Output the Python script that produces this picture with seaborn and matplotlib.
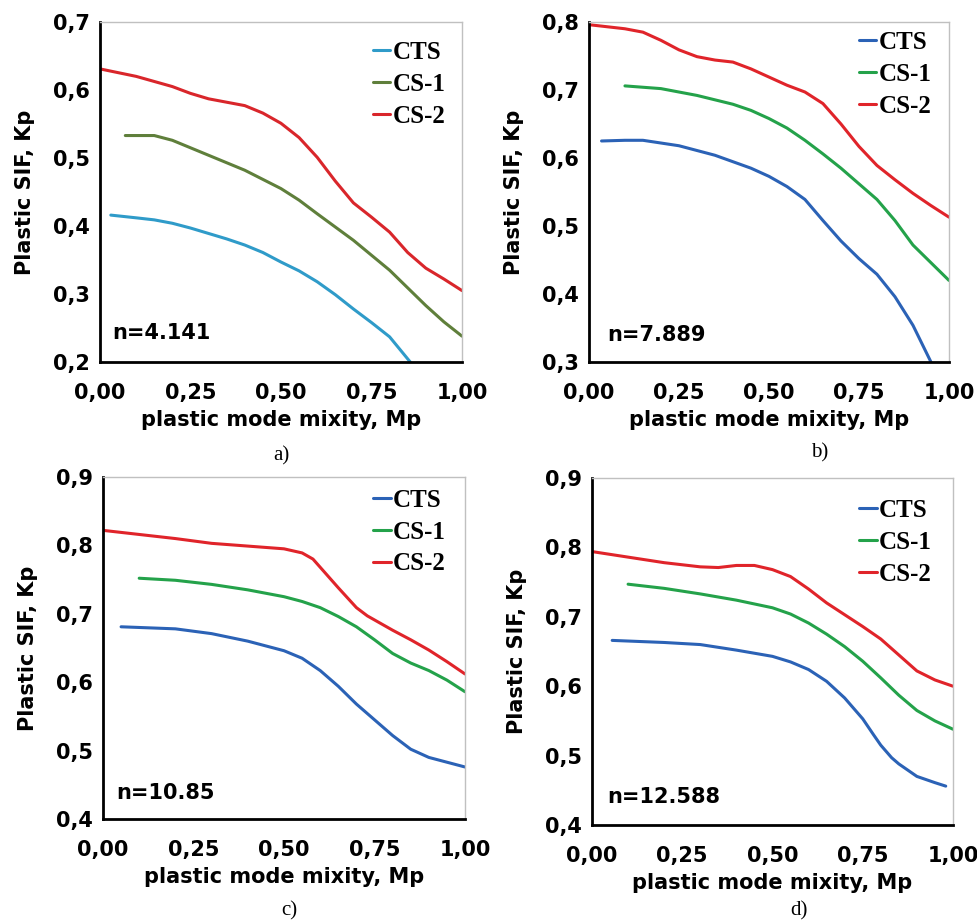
import matplotlib
matplotlib.use("Agg")
import matplotlib.pyplot as plt
import seaborn as sns
from matplotlib.ticker import FuncFormatter, MultipleLocator

# Data (plastic mode mixity Mp -> plastic SIF Kp)
# a) n=4.141
a_cts_x = [0.03, 0.10, 0.15, 0.20, 0.25, 0.30, 0.35, 0.40, 0.45, 0.50, 0.55, 0.60, 0.65, 0.70, 0.75, 0.80, 0.857]
a_cts_y = [0.416, 0.412, 0.409, 0.404, 0.397, 0.389, 0.381, 0.372, 0.361, 0.347, 0.334, 0.318, 0.299, 0.278, 0.258, 0.237, 0.200]
a_cs1_x = [0.07, 0.15, 0.20, 0.25, 0.30, 0.40, 0.50, 0.55, 0.60, 0.70, 0.80, 0.85, 0.90, 0.95, 1.00]
a_cs1_y = [0.533, 0.533, 0.526, 0.515, 0.504, 0.482, 0.455, 0.438, 0.418, 0.379, 0.335, 0.309, 0.283, 0.259, 0.238]
a_cs2_x = [0.00, 0.10, 0.20, 0.25, 0.30, 0.35, 0.40, 0.45, 0.50, 0.55, 0.60, 0.65, 0.70, 0.75, 0.80, 0.85, 0.90, 0.95, 1.00]
a_cs2_y = [0.631, 0.620, 0.605, 0.595, 0.587, 0.582, 0.577, 0.566, 0.551, 0.530, 0.501, 0.466, 0.434, 0.413, 0.391, 0.361, 0.338, 0.322, 0.305]

# b) n=7.889
b_cts_x = [0.035, 0.10, 0.15, 0.25, 0.35, 0.45, 0.50, 0.55, 0.60, 0.65, 0.70, 0.75, 0.80, 0.85, 0.90, 0.95]
b_cts_y = [0.625, 0.626, 0.626, 0.618, 0.604, 0.585, 0.573, 0.558, 0.539, 0.508, 0.478, 0.452, 0.429, 0.396, 0.354, 0.300]
b_cs1_x = [0.10, 0.20, 0.30, 0.40, 0.45, 0.50, 0.55, 0.60, 0.65, 0.70, 0.75, 0.80, 0.85, 0.90, 0.95, 1.00]
b_cs1_y = [0.706, 0.702, 0.692, 0.679, 0.670, 0.658, 0.644, 0.626, 0.606, 0.585, 0.562, 0.539, 0.508, 0.472, 0.446, 0.420]
b_cs2_x = [0.00, 0.10, 0.15, 0.20, 0.25, 0.30, 0.35, 0.40, 0.45, 0.50, 0.55, 0.60, 0.65, 0.70, 0.75, 0.80, 0.85, 0.90, 0.95, 1.00]
b_cs2_y = [0.796, 0.790, 0.785, 0.773, 0.759, 0.749, 0.744, 0.741, 0.731, 0.719, 0.707, 0.697, 0.680, 0.650, 0.617, 0.589, 0.568, 0.548, 0.530, 0.513]

# c) n=10.85
c_cts_x = [0.05, 0.20, 0.30, 0.40, 0.50, 0.55, 0.60, 0.65, 0.70, 0.75, 0.80, 0.85, 0.90, 0.95, 1.00]
c_cts_y = [0.681, 0.678, 0.671, 0.660, 0.646, 0.635, 0.617, 0.594, 0.568, 0.545, 0.522, 0.502, 0.490, 0.483, 0.476]
c_cs1_x = [0.10, 0.20, 0.30, 0.40, 0.50, 0.55, 0.60, 0.65, 0.70, 0.75, 0.80, 0.85, 0.90, 0.95, 1.00]
c_cs1_y = [0.752, 0.749, 0.743, 0.735, 0.725, 0.718, 0.709, 0.696, 0.681, 0.662, 0.642, 0.628, 0.617, 0.603, 0.586]
c_cs2_x = [0.00, 0.10, 0.20, 0.30, 0.40, 0.50, 0.55, 0.58, 0.60, 0.65, 0.70, 0.73, 0.75, 0.80, 0.85, 0.90, 0.95, 1.00]
c_cs2_y = [0.822, 0.816, 0.810, 0.803, 0.799, 0.795, 0.789, 0.780, 0.768, 0.738, 0.709, 0.697, 0.691, 0.676, 0.662, 0.647, 0.630, 0.612]

# d) n=12.588
d_cts_x = [0.056, 0.20, 0.30, 0.40, 0.50, 0.55, 0.60, 0.65, 0.70, 0.75, 0.78, 0.80, 0.83, 0.85, 0.90, 0.95, 0.98]
d_cts_y = [0.666, 0.663, 0.660, 0.652, 0.643, 0.635, 0.624, 0.607, 0.583, 0.553, 0.530, 0.515, 0.497, 0.488, 0.470, 0.461, 0.456]
d_cs1_x = [0.10, 0.20, 0.30, 0.40, 0.50, 0.55, 0.60, 0.65, 0.70, 0.75, 0.80, 0.85, 0.90, 0.95, 1.00]
d_cs1_y = [0.747, 0.741, 0.733, 0.724, 0.713, 0.704, 0.691, 0.675, 0.657, 0.636, 0.612, 0.587, 0.565, 0.550, 0.538]
d_cs2_x = [0.00, 0.10, 0.20, 0.30, 0.35, 0.40, 0.45, 0.50, 0.55, 0.60, 0.65, 0.70, 0.75, 0.80, 0.85, 0.90, 0.95, 1.00]
d_cs2_y = [0.794, 0.786, 0.778, 0.772, 0.771, 0.774, 0.774, 0.768, 0.758, 0.740, 0.720, 0.703, 0.686, 0.668, 0.645, 0.622, 0.609, 0.600]

series_names = ["CTS", "CS-1", "CS-2"]
n_labels = ["n=4.141", "n=7.889", "n=10.85", "n=12.588"]
captions = ["a)", "b)", "c)", "d)"]
y_limits = [(0.2, 0.7), (0.3, 0.8), (0.4, 0.9), (0.4, 0.9)]

panels = [
    [(a_cts_x, a_cts_y), (a_cs1_x, a_cs1_y), (a_cs2_x, a_cs2_y)],
    [(b_cts_x, b_cts_y), (b_cs1_x, b_cs1_y), (b_cs2_x, b_cs2_y)],
    [(c_cts_x, c_cts_y), (c_cs1_x, c_cs1_y), (c_cs2_x, c_cs2_y)],
    [(d_cts_x, d_cts_y), (d_cs1_x, d_cs1_y), (d_cs2_x, d_cs2_y)],
]

palette_a = ["#2f9bc9", "#5f7f3b", "#d9262b"]
palette_bcd = ["#2b62b6", "#24a24a", "#e0242a"]

# axes rectangles in figure fractions [left, bottom, width, height]
rects = [
    [0.1022, 0.6078, 0.3702, 0.3684],
    [0.6022, 0.6078, 0.3681, 0.3684],
    [0.1053, 0.1127, 0.3702, 0.3705],
    [0.6053, 0.1062, 0.3691, 0.3759],
]
legend_anchor = [(0.754, 0.944), (0.75, 0.973), (0.746, 0.965), (0.74, 0.939)]
n_pos = [(0.033, 0.085), (0.05, 0.079), (0.036, 0.076), (0.042, 0.081)]
caption_pos = [(0.288, 0.506), (0.838, 0.509), (0.296, 0.013), (0.817, 0.013)]

sns.set_theme(style="white")
plt.rcParams['font.family'] = ['DejaVu Sans']
plt.rcParams['text.color'] = 'black'
plt.rcParams['axes.labelcolor'] = 'black'
plt.rcParams['xtick.color'] = 'black'
plt.rcParams['ytick.color'] = 'black'

comma = FuncFormatter(lambda v, p: f"{v:.2f}".replace(".", ","))
comma1 = FuncFormatter(lambda v, p: f"{v:.1f}".replace(".", ","))

fig = plt.figure(figsize=(9.78, 9.23), dpi=100)
for i, rect in enumerate(rects):
    ax = fig.add_axes(rect)
    colors = palette_a if i == 0 else palette_bcd
    for (xs, ys), name, col in zip(panels[i], series_names, colors):
        sns.lineplot(x=xs, y=ys, ax=ax, color=col, linewidth=2.2, label=name, sort=False)
    ax.set_xlim(0, 1)
    ax.set_ylim(*y_limits[i])
    ax.xaxis.set_major_locator(MultipleLocator(0.25))
    ax.yaxis.set_major_locator(MultipleLocator(0.1))
    ax.xaxis.set_major_formatter(comma)
    ax.yaxis.set_major_formatter(comma1)
    ax.tick_params(axis='both', direction='in', length=7, width=2, color='black',
                   labelcolor='black', labelsize=15, pad=7)
    ax.tick_params(axis='x', pad=15)
    for lab in ax.get_xticklabels() + ax.get_yticklabels():
        lab.set_fontweight('bold')
    for side in ['left', 'bottom']:
        ax.spines[side].set_color('black')
        ax.spines[side].set_linewidth(2)
    for side in ['top', 'right']:
        ax.spines[side].set_color('#c0c0c0')
        ax.spines[side].set_linewidth(1)
    ax.set_xlabel("plastic mode mixity, Mp", fontsize=15, fontweight='bold', labelpad=5)
    ax.set_ylabel("Plastic SIF, Kp", fontsize=15, fontweight='bold', labelpad=13)
    ax.text(n_pos[i][0], n_pos[i][1], n_labels[i], transform=ax.transAxes, fontsize=15,
            fontweight='bold', ha='left', va='center')
    ax.legend(loc='upper left', bbox_to_anchor=legend_anchor[i], frameon=False,
              handlelength=0.7, handletextpad=0.1, labelspacing=0.35,
              borderpad=0, borderaxespad=0,
              prop={'family': 'Liberation Serif', 'weight': 'bold', 'size': 18})
    fig.text(caption_pos[i][0], caption_pos[i][1], captions[i], fontsize=15,
             family='Liberation Serif', ha='center', va='center')

fig.savefig("out.png", dpi=100)
